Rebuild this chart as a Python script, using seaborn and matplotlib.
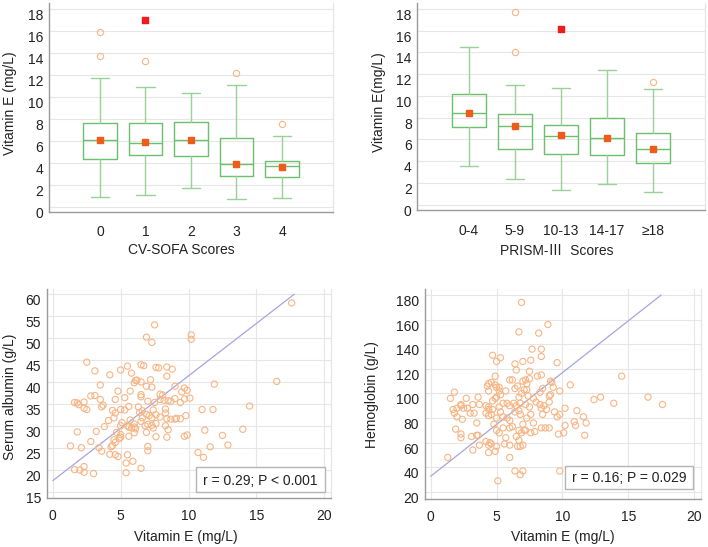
import numpy as np
import pandas as pd
import matplotlib
matplotlib.use("Agg")
import matplotlib.pyplot as plt
import seaborn as sns
from matplotlib.ticker import MultipleLocator, FixedLocator
from matplotlib.patches import Rectangle

# ---- box plot summaries ----
sofa_labels = ["0", "1", "2", "3", "4"]
sofa_whislo = [0.9, 1.1, 1.7, 0.7, 0.85]
sofa_q1 = [4.4, 4.7, 4.6, 2.8, 2.7]
sofa_med = [6.1, 5.85, 6.1, 3.9, 3.7]
sofa_q3 = [7.6, 7.6, 7.7, 6.3, 4.2]
sofa_whishi = [11.7, 10.9, 10.4, 11.1, 6.45]
sofa_mean = [6.1, 5.9, 6.1, 3.9, 3.65]
sofa_out = [[15.9, 13.7], [13.25], [], [12.2], [7.55]]
sofa_far = [[], [17.0], [], [], []]

prism_labels = ["0-4", "5-9", "10-13", "14-17", "≥18"]
prism_whislo = [3.55, 2.35, 1.35, 1.9, 1.2]
prism_q1 = [7.1, 5.1, 4.7, 4.6, 3.85]
prism_med = [8.4, 7.2, 6.35, 6.1, 5.1]
prism_q3 = [10.2, 8.35, 7.3, 8.0, 6.6]
prism_whishi = [14.5, 11.05, 10.7, 12.4, 10.65]
prism_mean = [8.45, 7.25, 6.4, 6.15, 5.1]
prism_out = [[], [17.7, 14.05], [], [], [11.25]]
prism_far = [[], [], [16.15], [], []]

# ---- scatter data ----
alb_vitE = [17.6, 7.5, 6.9, 7.3, 10.2, 10.2,
            2.5, 3.1, 4.2, 5.0, 5.5, 5.8, 6.5, 6.7, 7.6, 7.8, 8.4, 8.8,
            8.4, 6.1, 6.2, 6.0, 6.5, 7.2,
            3.5, 6.9, 7.3, 9.0, 4.8, 5.7,
            2.8, 3.1, 3.5, 4.6, 5.3,
            6.5, 6.5, 7.0, 7.9, 8.1, 9.5, 9.7, 9.9,
            11.9, 16.5,
            1.6, 1.8, 1.9, 2.3, 2.3, 2.5, 3.6, 3.7,
            5.0, 5.3, 5.6, 6.3, 6.6, 7.4, 7.5, 7.9, 8.2, 8.5, 8.7, 9.0, 9.4, 9.7, 10.1,
            11.0, 11.8, 14.5,
            4.4, 4.6, 4.5,
            6.4, 6.9, 7.1, 7.6, 7.9, 8.3, 8.4, 8.3, 8.7, 9.0, 9.1, 9.4, 9.8,
            3.8, 4.1, 5.0, 5.1, 5.5, 5.7, 6.0, 6.0, 6.5, 6.6, 6.8, 7.0, 7.3, 7.3, 7.6, 8.3,
            1.8, 3.2, 4.7, 5.0, 5.6, 5.8, 6.1, 6.0, 6.9, 7.4, 8.5,
            1.3, 2.1, 2.8, 3.4, 3.6, 4.3, 4.4, 4.6, 4.5, 4.9, 5.0, 5.6, 7.0, 7.0, 7.6, 8.4, 9.7, 9.9,
            4.2, 4.6, 4.8, 5.5, 5.4, 5.9, 6.5, 5.4,
            1.6, 2.0, 2.3, 2.3, 3.0,
            10.7, 11.1, 11.6, 12.5, 12.9, 14.0, 11.2]
albumin = [58, 53, 50.2, 49, 50.7, 49.7,
           44.5, 42.5, 41.6, 42.7, 43.6, 42, 43.9, 43.7, 43.3, 43.2, 43.4, 42.9,
           41.3, 40.3, 40.4, 39.8, 40, 40.5,
           39.3, 39, 38.8, 39, 37.9, 37.9,
           36.8, 36.9, 36, 36, 36.4,
           37.1, 36.6, 35.6, 37.2, 37.0, 37.7, 38.6, 38.1,
           39.5, 40.1,
           35.3, 35.2, 34.8, 35.4, 34, 33.7, 34.3, 34.7,
           33.7, 33.6, 34.4, 34.3, 33.4, 33.6, 35.3, 36, 35.8, 35.7, 35.6, 36.2, 35.3, 36.1, 36.3,
           33.7, 33.7, 34.5,
           33.5, 32.9, 31.8,
           33, 32.6, 32.3, 32.5, 32, 32.9, 31.6, 33.8, 31.5, 31.5, 31.7, 31.6, 32.3,
           29.8, 31.2, 30.0, 30.7, 30, 31.3, 30.4, 29.7, 31, 31.8, 30.0, 30.3, 31.8, 30.1, 30.5, 30,
           28.6, 28.7, 28.5, 28.0, 29.7, 29.5, 29.3, 28.4, 28.5, 29.5, 29.1,
           25.4, 25, 26.4, 25, 24.2, 25.2, 25.5, 26.2, 26.8, 27.1, 27.4, 27.6, 25.3, 24.3, 27.5, 27.4, 27.6, 27.9,
           23.5, 23.4, 23, 23.4, 21.5, 21.9, 20.3, 19.3,
           20, 19.9, 20.7, 19.4, 19.1,
           23.9, 22.8, 25.2, 27.8, 25.6, 29.2, 29]

hb_vitE = [6.9,
           6.7, 8.2, 8.9,
           4.7, 5.0, 5.3, 6.4, 6.5, 7.0, 7.7, 7.6, 8.4, 8.4, 9.6,
           7.5, 4.9, 6.0, 6.2, 7.0, 7.2, 7.3, 7.5, 8.1, 8.4, 9.1, 9.2, 9.3, 10.6, 14.5,
           4.3, 4.4, 4.4, 4.6, 4.9, 5.0, 5.2, 5.2, 5.7, 6.4, 6.6, 7.1, 7.3, 8.3, 8.5, 9.1, 9.8,
           1.8, 1.5, 2.7, 3.6, 3.7,
           4.2, 4.4, 4.4, 4.7, 4.9, 5.0, 5.2, 5.3, 5.5, 5.8, 6.0, 6.3, 6.5, 6.7, 6.8, 6.9, 7.2, 7.4, 7.5, 7.8, 8.0, 8.3, 8.4, 8.6, 9.0, 9.0,
           1.7, 1.8, 2.0, 2.3, 2.3, 2.5, 2.8, 3.0, 3.2, 3.3, 2.0, 2.4,
           4.2, 4.4, 4.6, 4.7, 5.0, 5.3, 5.5, 5.8, 6.0, 6.4, 6.7, 6.8, 7.3, 7.6, 8.5, 8.8, 9.4, 9.6, 9.8, 10.2, 11.1, 11.6, 12.4, 12.9, 13.9, 16.5, 17.6,
           1.9, 3.5, 4.8, 5.0, 5.5, 5.2, 6.0, 6.2, 6.7, 6.9, 7.0, 7.1, 7.2, 7.6, 7.9, 7.8, 8.4, 8.7, 9.0, 10.2, 10.9, 11.0, 11.8, 11.7, 10.1, 9.7,
           2.3, 2.3, 3.1, 3.5, 3.6, 4.2, 4.4, 4.5, 4.6, 5.0, 5.6, 5.7, 6.0, 6.5, 6.7, 6.6, 6.8, 7.0, 3.2, 3.7, 4.4, 4.9, 6.0, 1.3,
           6.4, 6.8, 7.0, 9.8, 5.1]
hemoglobin = [174,
              150, 149, 156,
              131, 126, 129, 124, 119, 126, 136, 127, 136, 130, 125,
              118, 114, 111, 111, 110, 111, 108, 112, 114, 115, 110, 109, 105, 107, 114,
              106, 102, 108, 109, 107, 105, 105, 102, 102, 104, 106, 103, 103, 101, 104, 99, 102,
              101, 96, 96, 97, 91,
              90, 89, 87, 94, 96, 97, 89, 99, 92, 92, 90, 92, 90, 97, 92, 100, 91, 98, 89, 96, 93, 91, 88, 90, 93, 98,
              87, 84, 88, 90, 91, 88, 88, 84, 91, 84, 81, 79,
              84, 82, 83, 87, 80, 85, 81, 80, 78, 85, 86, 83, 80, 83, 83, 87, 85, 81, 83, 88, 86, 81, 95, 97, 92, 97, 91,
              71, 76, 75, 70, 72, 68, 72, 73, 70, 68, 75, 70, 70, 68, 69, 76, 72, 72, 72, 74, 77, 74, 76, 66, 68, 67,
              67, 64, 65, 66, 66, 61, 58, 60, 59, 57, 59, 64, 58, 65, 62, 57, 57, 58, 54, 58, 52, 53, 48, 48,
              37, 34, 37, 37, 29]

# fitted lines as drawn in the picture (end points)
alb_fit_x = [0, 17.8]
alb_fit_y = [17.5, 60]
hb_fit_x = [0, 17.5]
hb_fit_y = [32.7, 180]

alb_text = "r = 0.29; P < 0.001"
hb_text = "r = 0.16; P = 0.029"

# ---- style ----
sns.set_style("white")
plt.rcParams['font.family'] = ['Liberation Sans', 'Noto Sans CJK SC', 'DejaVu Sans']
plt.rcParams['font.size'] = 10

GREEN = '#6cc06c'
GREEN_L = '#98d298'
MEAN_C = '#f05a1a'
FAR_C = '#ee1c1c'
PT_C = '#f7b584'
GRID_C = '#e6e6e6'
SPINE_C = '#9a9a9a'
TXT_C = '#222222'

fig = plt.figure(figsize=(7.08, 5.47), dpi=100)
ax1 = fig.add_axes([0.0692, 0.6124, 0.4011, 0.3821])
ax2 = fig.add_axes([0.5894, 0.6170, 0.4059, 0.3775])
ax3 = fig.add_axes([0.0660, 0.0901, 0.4015, 0.3810])
ax4 = fig.add_axes([0.5999, 0.0872, 0.3898, 0.3839])


def style_axes(ax):
    ax.set_facecolor('white')
    for s in ['left', 'bottom']:
        ax.spines[s].set_color(SPINE_C)
        ax.spines[s].set_linewidth(1.0)
    ax.spines['right'].set_color(GRID_C)
    ax.spines['right'].set_linewidth(0.9)
    ax.spines['top'].set_visible(False)
    ax.tick_params(axis='both', which='major', length=0, labelsize=10, colors=TXT_C)
    ax.tick_params(axis='y', which='minor', direction='in', length=3, color=SPINE_C, width=0.8)
    ax.set_axisbelow(True)


def box_panel(ax, labels, whislo, q1, med, q3, whishi, mean, out, far, xlabel, ylabel):
    stats = []
    for i in range(len(labels)):
        stats.append(dict(whislo=whislo[i], q1=q1[i], med=med[i], q3=q3[i],
                          whishi=whishi[i], mean=mean[i], fliers=out[i], label=labels[i]))
    pos = list(range(len(labels)))
    ax.bxp(stats, positions=pos, widths=0.73, capwidths=0.4, showmeans=True,
           boxprops=dict(color=GREEN, linewidth=1.0),
           medianprops=dict(color=GREEN, linewidth=1.0),
           whiskerprops=dict(color=GREEN_L, linewidth=1.0),
           capprops=dict(color=GREEN_L, linewidth=1.0),
           meanprops=dict(marker='s', markerfacecolor=MEAN_C, markeredgecolor=MEAN_C, markersize=4),
           flierprops=dict(marker='o', markerfacecolor='none', markeredgecolor=PT_C,
                           markersize=4.5, markeredgewidth=0.8))
    fx = [p for p, v in zip(pos, far) for _ in v]
    fy = [y for v in far for y in v]
    ax.scatter(fx, fy, marker='s', s=16, color=FAR_C, zorder=4)
    style_axes(ax)
    ax.set_xlim(-1.12, len(labels) - 1 + 1.12)
    ax.set_ylim(-0.45, 18.55)
    ax.yaxis.set_major_locator(FixedLocator(np.arange(0, 19, 2)))
    ax.yaxis.set_minor_locator(FixedLocator(np.arange(1, 19, 2)))
    ax.set_xticks(pos)
    ax.set_xticklabels(labels)
    ax.grid(axis='y', which='major', color=GRID_C, linewidth=0.8)
    ax.grid(axis='x', visible=False)
    ax.set_xlabel(xlabel, fontsize=10, color=TXT_C)
    ax.set_ylabel(ylabel, fontsize=10, color=TXT_C)


box_panel(ax1, sofa_labels, sofa_whislo, sofa_q1, sofa_med, sofa_q3, sofa_whishi,
          sofa_mean, sofa_out, sofa_far, "CV-SOFA Scores", "Vitamin E (mg/L)")
box_panel(ax2, prism_labels, prism_whislo, prism_q1, prism_med, prism_q3, prism_whishi,
          prism_mean, prism_out, prism_far, "PRISM-Ⅲ  Scores", "Vitamin E(mg/L)")
ax1.tick_params(axis='x', pad=9.5)
ax2.tick_params(axis='x', pad=10.5)
ax1.xaxis.set_label_coords(0.467, -0.18)
ax2.xaxis.set_label_coords(0.486, -0.203)
ax1.yaxis.set_label_coords(-0.137, 0.52)
ax2.yaxis.set_label_coords(-0.133, 0.52)


def scatter_panel(ax, x, y, fit_x, fit_y, text, xlabel, ylabel, ylim, ymaj, ymin, box):
    df = pd.DataFrame({'x': x, 'y': y})
    sns.scatterplot(data=df, x='x', y='y', ax=ax, marker='o', s=20,
                    facecolor='none', edgecolor=PT_C, linewidth=0.8, zorder=3)
    ax.plot(fit_x, fit_y, color='#a5a5e0', linewidth=0.9, zorder=2)
    style_axes(ax)
    ax.set_xlim(-0.45, 20.5)
    ax.set_ylim(*ylim)
    ax.xaxis.set_major_locator(FixedLocator([0, 5, 10, 15, 20]))
    ax.yaxis.set_major_locator(FixedLocator(ymaj))
    if ymin is not None:
        ax.yaxis.set_minor_locator(FixedLocator(ymin))
    ax.grid(which='major', color=GRID_C, linewidth=0.8)
    ax.set_xlabel(xlabel, fontsize=10, color=TXT_C)
    ax.set_ylabel(ylabel, fontsize=10, color=TXT_C)
    x0, y0, x1, y1 = box
    ax.add_patch(Rectangle((x0, y0), x1 - x0, y1 - y0, transform=ax.transAxes,
                           facecolor='white', edgecolor='#b5b5b5', linewidth=1.0, zorder=5))
    ax.text((x0 + x1) / 2, y0 + 0.02, text, transform=ax.transAxes, ha='center',
            va='bottom', fontsize=10, color=TXT_C, zorder=6)


scatter_panel(ax3, alb_vitE, albumin, alb_fit_x, alb_fit_y, alb_text,
              "Vitamin E (mg/L)", "Serum albumin (g/L)", (13.6, 61.1),
              np.arange(15, 61, 5), None, (0.525, 0.029, 0.979, 0.149))
scatter_panel(ax4, hb_vitE, hemoglobin, hb_fit_x, hb_fit_y, hb_text,
              "Vitamin E (mg/L)", "Hemoglobin (g/L)", (14.0, 184.6),
              np.arange(20, 181, 20), np.arange(30, 181, 20), (0.507, 0.048, 0.973, 0.16))
ax3.tick_params(axis='x', pad=8)
ax4.tick_params(axis='x', pad=7.5)
ax3.xaxis.set_label_coords(0.489, -0.187)
ax4.xaxis.set_label_coords(0.499, -0.178)
ax3.yaxis.set_label_coords(-0.129, 0.483)
ax4.yaxis.set_label_coords(-0.19, 0.5)

for ax in [ax1, ax2, ax3, ax4]:
    ax.xaxis.label.set_va('center')
    ax.yaxis.label.set_va('center')
    plt.setp(ax.get_yticklabels(), va='top')
    ax.tick_params(axis='y', pad=4)

fig.savefig('out.png', dpi=100)
